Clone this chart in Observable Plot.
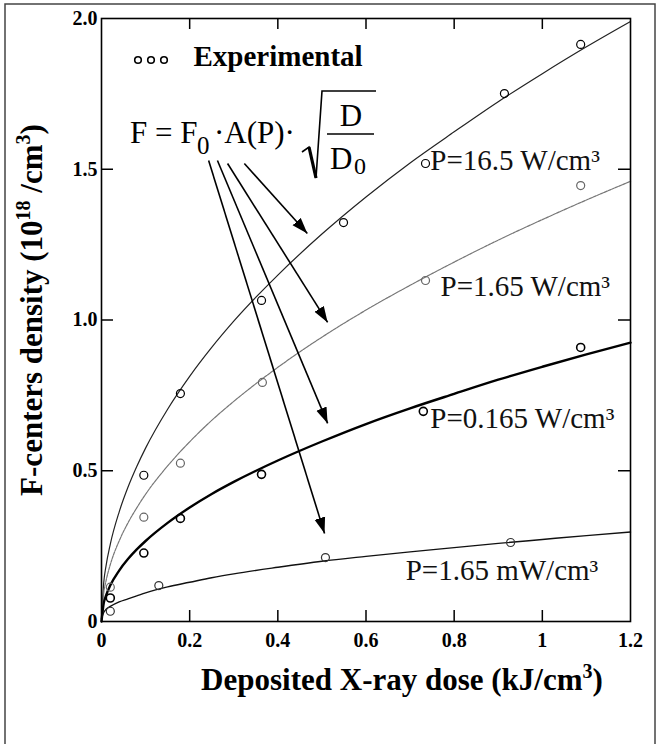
<!DOCTYPE html>
<html><head><meta charset="utf-8">
<script src="https://cdn.jsdelivr.net/npm/d3@7"></script>
<script src="https://cdn.jsdelivr.net/npm/@observablehq/plot@0.6"></script>
<style>body{margin:0;background:#fff} svg{display:block}</style>
</head><body><div id="chart"></div>
<script>
// ---- fitted curves ----
const doseGrid = [0, 0.005, 0.01, 0.02, 0.04, 0.06, 0.08, 0.1, 0.15, 0.2, 0.25, 0.3, 0.4, 0.5, 0.6, 0.7, 0.8, 0.9, 1.0, 1.1, 1.2];
const fit16p5W  = [0, 0.128, 0.182, 0.257, 0.363, 0.445, 0.514, 0.575, 0.704, 0.813, 0.909, 0.996, 1.149, 1.285, 1.408, 1.521, 1.624, 1.724, 1.817, 1.906, 1.99];
const fit1p65W  = [0, 0.094, 0.133, 0.189, 0.267, 0.327, 0.377, 0.422, 0.516, 0.596, 0.667, 0.730, 0.843, 0.943, 1.033, 1.115, 1.192, 1.265, 1.333, 1.398, 1.46];
const fit0p165W = [0, 0.06, 0.085, 0.12, 0.169, 0.207, 0.239, 0.267, 0.327, 0.378, 0.423, 0.463, 0.534, 0.597, 0.655, 0.707, 0.755, 0.802, 0.845, 0.886, 0.925];
const fit1p65mW = [0.01, 0.03, 0.04, 0.05, 0.065, 0.075, 0.085, 0.095, 0.115, 0.13, 0.145, 0.158, 0.18, 0.20, 0.216, 0.231, 0.245, 0.259, 0.272, 0.285, 0.297];

// ---- experimental points ----
const exp16p5W_D  = [0.096, 0.179, 0.363, 0.549, 0.735, 0.914, 1.087];
const exp16p5W_F  = [0.485, 0.756, 1.065, 1.323, 1.519, 1.751, 1.914];
const exp1p65W_D  = [0.02, 0.096, 0.179, 0.365, 0.735, 1.087];
const exp1p65W_F  = [0.114, 0.346, 0.525, 0.793, 1.131, 1.446];
const exp0p165W_D = [0.02, 0.096, 0.179, 0.363, 0.73, 1.087];
const exp0p165W_F = [0.078, 0.227, 0.342, 0.488, 0.697, 0.909];
const exp1p65mW_D = [0.02, 0.13, 0.508, 0.928];
const exp1p65mW_F = [0.034, 0.119, 0.212, 0.262];

// ---- curve labels ----
const labelText = ["P=16.5 W/cm³", "P=1.65 W/cm³", "P=0.165 W/cm³", "P=1.65 mW/cm³"];
const labelDose = [0.746, 0.769, 0.746, 0.690];
const labelF    = [1.496, 1.081, 0.643, 0.136];

// ---- arrows from formula to curves ----
const arrowD1 = [0.243, 0.263, 0.286, 0.324];
const arrowF1 = [1.529, 1.529, 1.519, 1.519];
const arrowD2 = [0.506, 0.513, 0.513, 0.467];
const arrowF2 = [0.292, 0.657, 0.992, 1.287];

// ---- ticks ----
const xTicks = [0, 0.2, 0.4, 0.6, 0.8, 1, 1.2];
const yTicks = [0, 0.5, 1.0, 1.5, 2.0];
const xInner = [0.2, 0.4, 0.6, 0.8, 1.0];
const yInner = [0.5, 1.0, 1.5];

const W = 658, H = 744, mL = 101, mR = 28, mT = 18, mB = 123;
const pW = W - mL - mR, pH = H - mT - mB;
const serif = "'Liberation Serif', 'Times New Roman', serif";

const grid = doseGrid.map((d, i) => ({d, a: fit16p5W[i], b: fit1p65W[i], c: fit0p165W[i], e: fit1p65mW[i]}));
const pts = (D, F) => D.map((d, i) => ({d, f: F[i]}));
const labels = labelText.map((t, i) => ({t, d: labelDose[i], f: labelF[i]}));
const arrows = arrowD1.map((d, i) => ({x1: d, y1: arrowF1[i], x2: arrowD2[i], y2: arrowF2[i]}));

const plot = Plot.plot({
  width: W, height: H,
  marginLeft: mL, marginRight: mR, marginTop: mT, marginBottom: mB,
  style: {fontFamily: serif, fontSize: "20px", fontWeight: "bold", background: "#fff", color: "#000"},
  x: {domain: [0, 1.2]},
  y: {domain: [0, 2]},
  marks: [
    Plot.axisX({ticks: xTicks, tickSize: 0, tickPadding: 11, label: null, tickFormat: d => String(d)}),
    Plot.axisY({ticks: yTicks, tickSize: 0, tickPadding: 4, label: null, tickFormat: d => d === 0 ? "0" : d.toFixed(1)}),
    Plot.tickX(xInner, {x: d => d, insetTop: pH - 11, stroke: "#000", strokeWidth: 1.5}),
    Plot.tickX(xInner, {x: d => d, insetBottom: pH - 11, stroke: "#000", strokeWidth: 1.5}),
    Plot.tickY(yInner, {y: d => d, insetRight: pW - 12, stroke: "#000", strokeWidth: 1.5}),
    Plot.tickY(yInner, {y: d => d, insetLeft: pW - 12, stroke: "#000", strokeWidth: 1.5}),
    Plot.line(grid, {x: "d", y: "a", curve: "monotone-x", stroke: "#222", strokeWidth: 1.2}),
    Plot.line(grid, {x: "d", y: "b", curve: "monotone-x", stroke: "#777", strokeWidth: 1.2, strokeDasharray: "3,1"}),
    Plot.line(grid, {x: "d", y: "c", curve: "monotone-x", stroke: "#000", strokeWidth: 2.4}),
    Plot.line(grid, {x: "d", y: "e", curve: "monotone-x", stroke: "#111", strokeWidth: 1.4}),
    Plot.dot(pts(exp16p5W_D, exp16p5W_F), {x: "d", y: "f", r: 4, stroke: "#000", strokeWidth: 1.2, fill: "none"}),
    Plot.dot(pts(exp1p65W_D, exp1p65W_F), {x: "d", y: "f", r: 4, stroke: "#666", strokeWidth: 1.2, fill: "none"}),
    Plot.dot(pts(exp0p165W_D, exp0p165W_F), {x: "d", y: "f", r: 4, stroke: "#000", strokeWidth: 1.6, fill: "none"}),
    Plot.dot(pts(exp1p65mW_D, exp1p65mW_F), {x: "d", y: "f", r: 4, stroke: "#333", strokeWidth: 1.2, fill: "none"}),
    Plot.link(arrows, {x1: "x1", y1: "y1", x2: "x2", y2: "y2", stroke: "#000", strokeWidth: 1.6}),
    Plot.text(labels, {x: "d", y: "f", text: "t", textAnchor: "start", lineAnchor: "bottom", fontSize: 29, fontWeight: "normal", fill: "#111"}),
    Plot.text(["Experimental"], {frameAnchor: "top-left", dx: 92, dy: 47, textAnchor: "start", lineAnchor: "bottom", fontSize: 29, fontWeight: "bold"}),
    Plot.frame({stroke: "#000", strokeWidth: 1.6})
  ]
});

document.getElementById("chart").appendChild(plot);
const svg = d3.select(plot);

// arrowheads
const defs = svg.insert("defs", ":first-child");
defs.append("marker").attr("id", "ah").attr("markerUnits", "userSpaceOnUse")
  .attr("viewBox", "0 -6 16 12").attr("refX", 16).attr("refY", 0)
  .attr("markerWidth", 16).attr("markerHeight", 12).attr("orient", "auto")
  .append("path").attr("d", "M0,-5.5L16,0L0,5.5Z").attr("fill", "#000");
svg.selectAll("g[aria-label='link'] path").attr("marker-end", "url(#ah)");

// outer frame of the figure
svg.append("rect").attr("x", 5).attr("y", 4).attr("width", 650).attr("height", 800)
  .attr("fill", "none").attr("stroke", "#444").attr("stroke-width", 1.5);

// legend circles
[138, 151, 164].forEach(cx => svg.append("circle").attr("cx", cx).attr("cy", 60).attr("r", 3.3)
  .attr("fill", "none").attr("stroke", "#000").attr("stroke-width", 1.6));

// formula
const f = svg.append("g").attr("font-family", serif).attr("font-size", 31)
  .attr("font-weight", "normal").attr("text-anchor", "start").attr("fill", "#000");
f.append("text").attr("x", 130).attr("y", 143).text("F = F");
f.append("text").attr("x", 197).attr("y", 154).attr("font-size", 25).text("0");
f.append("text").attr("x", 214).attr("y", 143).text("·A(P)·");
svg.append("path").attr("d", "M302,152L309,147L316,178L322,91L376,91")
  .attr("fill", "none").attr("stroke", "#000").attr("stroke-width", 1.6).attr("stroke-linejoin", "miter");
svg.append("path").attr("d", "M309,147L316,178").attr("stroke", "#000").attr("stroke-width", 3.2);
f.append("text").attr("x", 351).attr("y", 126).attr("text-anchor", "middle").text("D");
svg.append("line").attr("x1", 327).attr("x2", 374).attr("y1", 134).attr("y2", 134).attr("stroke", "#000").attr("stroke-width", 1.6);
f.append("text").attr("x", 330).attr("y", 169).text("D");
f.append("text").attr("x", 354).attr("y", 174).attr("font-size", 24).text("0");

// axis titles
const xl = svg.append("text").attr("x", 402).attr("y", 690).attr("text-anchor", "middle")
  .attr("font-family", serif).attr("font-weight", "bold").attr("font-size", 31);
xl.append("tspan").text("Deposited X-ray dose (kJ/cm");
xl.append("tspan").attr("font-size", 20).attr("dy", -12).text("3");
xl.append("tspan").attr("dy", 12).text(")");

const yl = svg.append("text").attr("transform", "translate(42,310) rotate(-90)").attr("text-anchor", "middle")
  .attr("font-family", serif).attr("font-weight", "bold").attr("font-size", 31);
yl.append("tspan").text("F-centers density (10");
yl.append("tspan").attr("font-size", 20).attr("dy", -12).text("18");
yl.append("tspan").attr("dy", 12).text(" /cm");
yl.append("tspan").attr("font-size", 20).attr("dy", -12).text("3");
yl.append("tspan").attr("dy", 12).text(")");
</script>
</body></html>
